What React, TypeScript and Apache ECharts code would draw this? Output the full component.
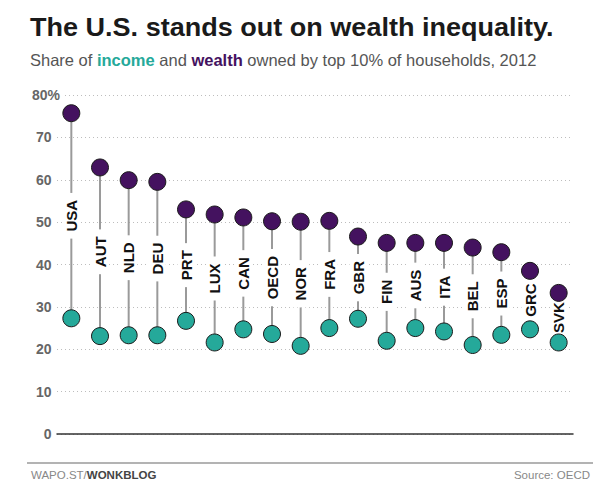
import React, { useEffect, useRef } from "react";
import * as echarts from "echarts";

const countries = ["USA", "AUT", "NLD", "DEU", "PRT", "LUX", "CAN", "OECD", "NOR", "FRA", "GBR", "FIN", "AUS", "ITA", "BEL", "ESP", "GRC", "SVK"];
const wealthShare = [75.7, 62.9, 59.9, 59.5, 53.0, 51.8, 51.1, 50.2, 50.1, 50.3, 46.6, 45.1, 45.1, 45.1, 44.0, 42.9, 38.5, 33.3];
const incomeShare = [27.3, 23.1, 23.3, 23.3, 26.7, 21.6, 24.7, 23.6, 20.8, 25.0, 27.2, 22.0, 25.0, 24.2, 21.0, 23.4, 24.7, 21.6];
const yMin = 0;
const yMax = 80;
const yStep = 10;

const titleText = "The U.S. stands out on wealth inequality.";
const sourceText = "Source: OECD";

const WEALTH = "#44125f";
const INCOME = "#25a99a";
const FONT = '"Liberation Sans", Arial, sans-serif';

export default function App() {
  const ref = useRef<HTMLDivElement>(null);
  useEffect(() => {
    const chart = echarts.init(ref.current!, null, { renderer: "svg" });
    const stemData = countries.map((c, i) => [i, incomeShare[i], wealthShare[i]]);
    const labelStyle = { fontFamily: FONT, fontWeight: "bold", fontSize: 14, color: "#666" };
    chart.setOption({
      animation: false,
      backgroundColor: "#fff",
      grid: { left: 57, right: 27, top: 95, bottom: 59, containLabel: false },
      xAxis: {
        type: "category",
        data: countries,
        boundaryGap: true,
        axisLabel: { show: false },
        axisTick: { show: false },
        axisLine: { show: true, lineStyle: { color: "#333", width: 1.5 } },
        splitLine: { show: false },
      },
      yAxis: [
        {
          type: "value",
          min: yMin,
          max: yMax,
          interval: yStep,
          axisLabel: { show: false },
          axisLine: { show: false },
          axisTick: { show: false },
          splitLine: { show: true, lineStyle: { color: "#bdbdbd", type: [1, 3], width: 1 } },
        },
        {
          type: "value",
          min: yMin,
          max: yMax,
          interval: yStep,
          position: "left",
          z: 5,
          axisLine: { show: false },
          axisTick: { show: false },
          splitLine: { show: false },
          axisLabel: {
            margin: -7,
            formatter: (v: number) => (v === yMax ? `{n|${v}}{p|%}` : `{n|${v}}{h|%}`),
            rich: {
              n: { ...labelStyle },
              p: { ...labelStyle, backgroundColor: "#fff", padding: [2, 4, 2, 0] },
              h: { ...labelStyle, color: "rgba(0,0,0,0)" },
            },
          },
        },
      ],
      series: [
        {
          type: "custom",
          z: 2,
          data: stemData,
          encode: { x: 0, y: [1, 2] },
          renderItem: (params: any, api: any) => {
            const idx = api.value(0);
            const low = api.coord([idx, api.value(1)]);
            const high = api.coord([idx, api.value(2)]);
            const midY = (low[1] + high[1]) / 2;
            return {
              type: "group",
              children: [
                {
                  type: "line",
                  shape: { x1: low[0], y1: low[1], x2: high[0], y2: high[1] },
                  style: { stroke: "#9a9a9a", lineWidth: 2 },
                },
                {
                  type: "text",
                  x: low[0],
                  y: midY,
                  rotation: Math.PI / 2,
                  style: {
                    text: countries[idx],
                    font: `bold 15px ${FONT}`,
                    fill: "#111",
                    align: "center",
                    verticalAlign: "middle",
                    backgroundColor: "#fff",
                    padding: [1, 7],
                  },
                },
              ],
            };
          },
        },
        {
          type: "scatter",
          name: "income",
          z: 3,
          data: incomeShare,
          symbol: "circle",
          symbolSize: 17,
          itemStyle: { color: INCOME, borderColor: "#1a1a1a", borderWidth: 1, opacity: 1 },
        },
        {
          type: "scatter",
          name: "wealth",
          z: 3,
          data: wealthShare,
          symbol: "circle",
          symbolSize: 17,
          itemStyle: { color: WEALTH, borderColor: "#1a1a1a", borderWidth: 1, opacity: 1 },
        },
      ],
      graphic: [
        {
          type: "text",
          x: 30,
          y: 27,
          scaleX: 1.04,
          style: {
            text: titleText,
            font: `bold 26px ${FONT}`,
            fill: "#1a1a1a",
            verticalAlign: "middle",
          },
        },
        {
          type: "text",
          x: 30,
          y: 60,
          style: {
            text: "Share of {i|income} and {w|wealth} owned by top 10% of households, 2012",
            font: `16.5px ${FONT}`,
            fill: "#555",
            verticalAlign: "middle",
            rich: {
              i: { fontFamily: FONT, fontSize: 16.5, fontWeight: "bold", fill: INCOME, color: INCOME },
              w: { fontFamily: FONT, fontSize: 16.5, fontWeight: "bold", fill: WEALTH, color: WEALTH },
            },
          },
        },
        {
          type: "line",
          shape: { x1: 27, y1: 463, x2: 593, y2: 463 },
          style: { stroke: "#9a9a9a", lineWidth: 1.5 },
        },
        {
          type: "text",
          x: 31,
          y: 475,
          style: {
            text: "WAPO.ST/{b|WONKBLOG}",
            font: `11.5px ${FONT}`,
            fill: "#888",
            verticalAlign: "middle",
            rich: {
              b: { fontFamily: FONT, fontSize: 11.5, fontWeight: "bold", fill: "#444", color: "#444" },
            },
          },
        },
        {
          type: "text",
          x: 590,
          y: 475,
          style: {
            text: sourceText,
            font: `11.5px ${FONT}`,
            fill: "#888",
            align: "right",
            verticalAlign: "middle",
          },
        },
      ],
    });
    return () => chart.dispose();
  }, []);
  return <div ref={ref} style={{ position: "fixed", left: 0, top: 0, width: 600, height: 493 }} />;
}
